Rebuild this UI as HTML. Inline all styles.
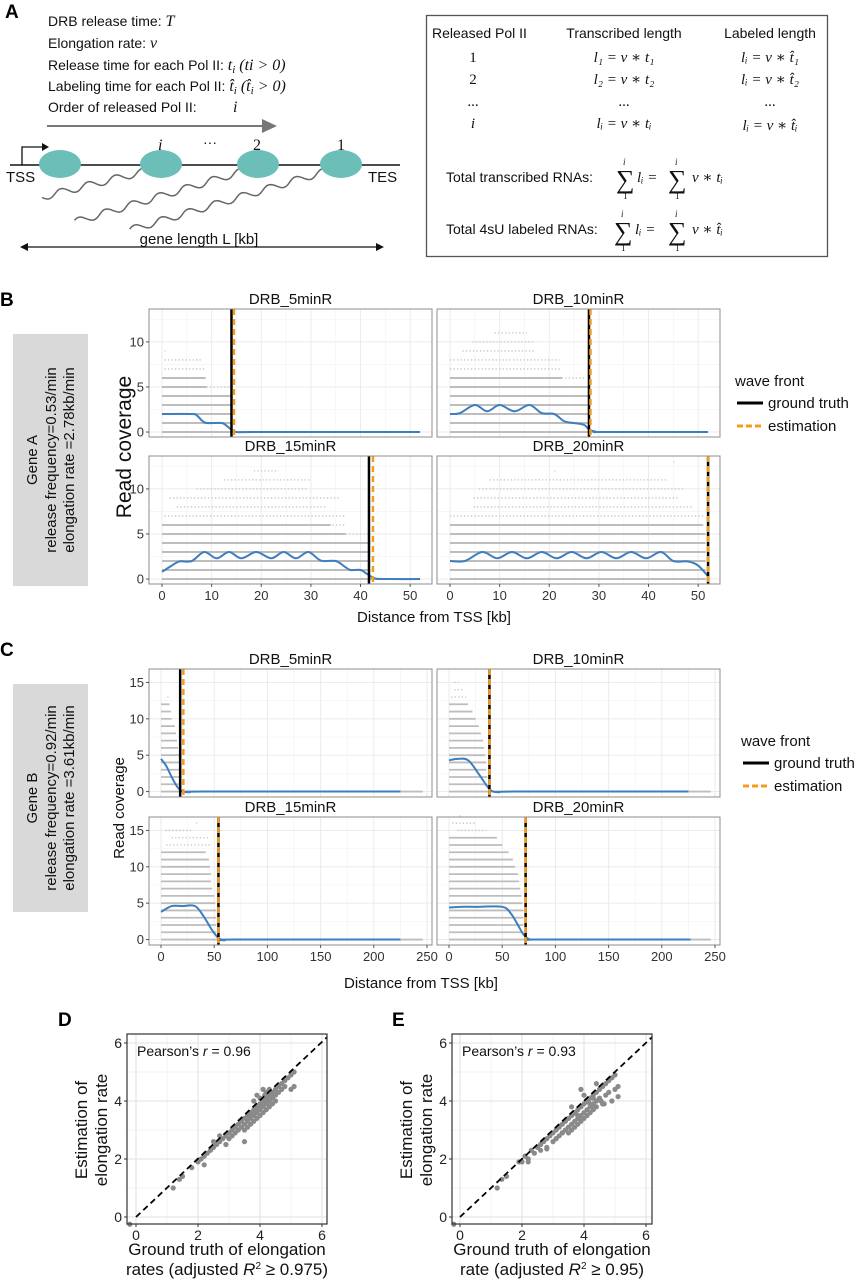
<!DOCTYPE html>
<html><head><meta charset="utf-8">
<style>
html,body{margin:0;padding:0;background:#fff;}
svg{display:block;font-family:"Liberation Sans",Arial,sans-serif;}
.m{font-family:"Liberation Serif","DejaVu Serif",serif;font-style:italic;}
</style></head>
<body>
<svg id="fig" width="860" height="1280" viewBox="0 0 860 1280" xmlns="http://www.w3.org/2000/svg">
<rect width="860" height="1280" fill="#fff"/>
<text x="5" y="18" font-size="19" font-weight="bold">A</text>
<text x="0" y="306" font-size="19" font-weight="bold">B</text>
<text x="0" y="656" font-size="19" font-weight="bold">C</text>
<text x="58" y="1026" font-size="19" font-weight="bold">D</text>
<text x="392" y="1026" font-size="19" font-weight="bold">E</text>

<g font-size="14" fill="#111">
<text x="48" y="26">DRB release time: <tspan class="m" font-size="16">T</tspan></text>
<text x="48" y="48">Elongation rate: <tspan class="m" font-size="16">v</tspan></text>
<text x="48" y="70">Release time for each Pol II: <tspan class="m" font-size="16">t<tspan font-size="11" dy="3">i</tspan><tspan dy="-3"> (ti &gt; 0)</tspan></tspan></text>
<text x="48" y="91">Labeling time for each Pol II: <tspan class="m" font-size="16">t̂<tspan font-size="11" dy="3">i</tspan><tspan dy="-3"> (t̂</tspan><tspan font-size="11" dy="3">i</tspan><tspan dy="-3"> &gt; 0)</tspan></tspan></text>
<text x="48" y="112">Order of released Pol II:<tspan class="m" x="233" font-size="16">i</tspan></text>
<line x1="47" y1="126" x2="264" y2="126" stroke="#777" stroke-width="2"/>
<polygon points="262,119 277,126 262,133" fill="#777"/>
<line x1="10" y1="165" x2="400" y2="165" stroke="#111" stroke-width="1.5"/>
<polyline points="22,165 22,147 44,147" fill="none" stroke="#111" stroke-width="1.3"/>
<polygon points="42,143 49,147 42,151" fill="#111"/>
<g id="rnas" fill="none" stroke="#666" stroke-width="1.5"></g>
<g fill="#6cbfb8">
<ellipse cx="60" cy="164" rx="21" ry="14"/><ellipse cx="161" cy="164" rx="21" ry="14"/>
<ellipse cx="258" cy="164" rx="21" ry="14"/><ellipse cx="341" cy="164" rx="21" ry="14"/>
</g>
<text x="158" y="150" class="m" font-size="16">i</text>
<text x="203" y="147" font-size="14">···</text>
<text x="253" y="150" font-family="Liberation Serif,serif" font-size="16">2</text>
<text x="337" y="150" font-family="Liberation Serif,serif" font-size="16">1</text>
<text x="6" y="182" font-size="15">TSS</text>
<text x="368" y="182" font-size="15">TES</text>
<line x1="26" y1="247" x2="378" y2="247" stroke="#111" stroke-width="1.3"/>
<polygon points="28,243 20,247 28,251" fill="#111"/>
<polygon points="376,243 384,247 376,251" fill="#111"/>
<text x="199" y="244" text-anchor="middle" font-size="15">gene length L [kb]</text>
</g>

<g font-size="14" fill="#111">
<rect x="426.5" y="15.5" width="401" height="241" fill="none" stroke="#555" stroke-width="1.3"/>
<text x="432" y="38">Released Pol II</text>
<text x="624" y="38" text-anchor="middle">Transcribed length</text>
<text x="770" y="38" text-anchor="middle">Labeled length</text>
<g font-family="Liberation Serif,serif" font-size="15">
<text x="473" y="62" text-anchor="middle">1</text><text x="473" y="84" text-anchor="middle">2</text>
<text x="473" y="106" text-anchor="middle">...</text><text x="473" y="128" text-anchor="middle" class="m">i</text>
<text x="624" y="62" text-anchor="middle" class="m">l₁ = v ∗ t₁</text>
<text x="624" y="84" text-anchor="middle" class="m">l₂ = v ∗ t₂</text>
<text x="624" y="106" text-anchor="middle">...</text>
<text x="624" y="128" text-anchor="middle" class="m">lᵢ = v ∗ tᵢ</text>
<text x="770" y="62" text-anchor="middle" class="m">lᵢ = v ∗ t̂₁</text>
<text x="770" y="84" text-anchor="middle" class="m">lᵢ = v ∗ t̂₂</text>
<text x="770" y="106" text-anchor="middle">...</text>
<text x="770" y="130" text-anchor="middle" class="m">lᵢ = v ∗ t̂ᵢ</text>
</g>
<text x="446" y="182">Total transcribed RNAs:</text>
<g font-family="Liberation Serif,serif">
<text x="616" y="188" font-size="26">∑</text><text x="623" y="165" font-size="9" class="m">i</text><text x="623" y="199" font-size="9">1</text>
<text x="637" y="182" class="m" font-size="15">lᵢ =</text>
<text x="668" y="188" font-size="26">∑</text><text x="675" y="165" font-size="9" class="m">i</text><text x="675" y="199" font-size="9">1</text>
<text x="692" y="182" class="m" font-size="15">v ∗  tᵢ</text>
</g>
<text x="446" y="234">Total 4sU labeled RNAs:</text>
<g font-family="Liberation Serif,serif">
<text x="614" y="240" font-size="26">∑</text><text x="621" y="217" font-size="9" class="m">i</text><text x="621" y="251" font-size="9">1</text>
<text x="635" y="234" class="m" font-size="15">lᵢ =</text>
<text x="668" y="240" font-size="26">∑</text><text x="675" y="217" font-size="9" class="m">i</text><text x="675" y="251" font-size="9">1</text>
<text x="692" y="234" class="m" font-size="15">v ∗  t̂ᵢ</text>
</g>
</g>

<g>
<rect x="13" y="334" width="75" height="252" fill="#d9d9d9"/>
<text transform="translate(51,460) rotate(-90)" text-anchor="middle" font-size="15" fill="#111"><tspan x="0" dy="-14">Gene A</tspan><tspan x="0" dy="19">release frequency=0.53/min</tspan><tspan x="0" dy="18">elongation rate =2.78kb/min</tspan></text>
</g>
<g>
<rect x="13" y="684" width="75" height="228" fill="#d9d9d9"/>
<text transform="translate(51,798) rotate(-90)" text-anchor="middle" font-size="15" fill="#111"><tspan x="0" dy="-14">Gene B</tspan><tspan x="0" dy="19">release frequency=0.92/min</tspan><tspan x="0" dy="18">elongation rate =3.61kb/min</tspan></text>
</g>

<text transform="translate(131,447) rotate(-90)" text-anchor="middle" font-size="21" fill="#111">Read coverage</text>
<text x="434" y="622" text-anchor="middle" font-size="15" fill="#111">Distance from TSS [kb]</text>
<text transform="translate(124,808) rotate(-90)" text-anchor="middle" font-size="15" fill="#111">Read coverage</text>
<text x="421" y="988" text-anchor="middle" font-size="15" fill="#111">Distance from TSS [kb]</text>

<g font-size="15" fill="#111">
<text x="735" y="386">wave front</text>
<line x1="737" y1="403" x2="763" y2="403" stroke="#000" stroke-width="3"/>
<text x="768" y="408">ground truth</text>
<line x1="737" y1="426" x2="763" y2="426" stroke="#f39c1f" stroke-width="3" stroke-dasharray="6 3"/>
<text x="768" y="431">estimation</text>
</g>
<g font-size="15" fill="#111">
<text x="741" y="746">wave front</text>
<line x1="743" y1="763" x2="769" y2="763" stroke="#000" stroke-width="3"/>
<text x="774" y="768">ground truth</text>
<line x1="743" y1="786" x2="769" y2="786" stroke="#f39c1f" stroke-width="3" stroke-dasharray="6 3"/>
<text x="774" y="791">estimation</text>
</g>

<g id="charts"></g>
</svg>
<script>
const bTitles = ["DRB_5minR","DRB_10minR","DRB_15minR","DRB_20minR"];
const bXTicks = [0,10,20,30,40,50];
const bYTicks = [0,5,10];
const bTruth = [14, 28, 41.7, 52];
const bEstimate = [14.5, 28.3, 42.5, 52];
const bSolidEnds5 = [52,14,14,14,14,9,8.8];
const bSolidEnds10 = [52,28,28,28,28,28,22.5];
const bSolidEnds15 = [52,42,42,42,42,37,34];
const bSolidEnds20 = [51.5,51.5,51.5,51.5,51.5,51.5,51];
const bDotted5 = [[5,9,13.5],[7,0.5,8.5],[8,0.5,8],[9,0.5,0.7]];
const bDotted10 = [[6,22.5,27],[7,0,22.5],[8,0,22],[9,2.5,17],[10,4.5,17],[11,9,15.5]];
const bDotted15 = [[5,37,42],[6,0.5,37],[7,0.5,37],[8,3,33],[9,1.5,36],[10,7,29.5],[11,12.5,30],[12,18.5,23.5]];
const bDotted20 = [[7,0,51],[8,4.7,49],[9,4.7,46],[10,5.8,47],[11,8,44],[12,21,21.2],[13,45,45.2]];
const bCurveX5 = [0,6,7,8,9,12,13,14,15,20,52];
const bCurveY5 = [2,2,1.85,1.3,1,1,0.7,0.25,0,0,0];
const bCurveX10 = [0,2,5,7.5,10,13,16,18.5,21,23,25,27,28,29.5,31,52];
const bCurveY10 = [2,2.1,3,2.3,3,2.3,3,2.1,2,1.2,1,0.8,0.3,0.02,0,0];
const bCurveX15 = [0,2,3.5,6,8.5,11,13.5,16,19,22,24.5,27,29.5,32,35,37,38,40,41.5,43,46,52];
const bCurveY15 = [0.8,1.5,1.95,2,3,2.3,3,2.3,3,2.3,3,2.3,3,2.05,2,1.3,1,1,0.5,0.05,0,0];
const bCurveX20 = [0,3,6.5,9.5,12.5,15.5,18.5,21.5,24.5,27.5,30.5,33.5,36.5,39.5,42.5,45,48,50,52];
const bCurveY20 = [2,2,3,2.3,3,2.3,3,2.3,3,2.3,3,2.3,3,2.3,3,2,1.95,1.5,0.3];

const cTitles = ["DRB_5minR","DRB_10minR","DRB_15minR","DRB_20minR"];
const cXTicks = [0,50,100,150,200,250];
const cYTicks = [0,5,10,15];
const cTruth = [18, 38, 54, 72];
const cEstimate = [21, 38, 54, 72];
const cSolidEnds5 = [246,17,17,17,17,17,16,15,14,13,10,9,8];
const cSolidEnds10 = [246,36,36,35,35,34,33,32,30,28,25,22,18];
const cSolidEnds15 = [246,52,52,52,52,51,50,48,47,47,46,45,42];
const cSolidEnds20 = [246,70,70,70,70,69,68,67,66,65,62,60,56,50,45];
const cDotted5 = [[11,5,10],[13,6,7]];
const cDotted10 = [[13,2,16],[14,5,15],[15,5,9]];
const cDotted15 = [[13,5,48],[14,10,45],[15,4,30],[16,33,34]];
const cDotted20 = [[15,8,35],[16,3,25],[17,10,11]];
const cCurveX5 = [0,5,10,15,20,27,40,225];
const cCurveY5 = [4.5,3.5,2,0.7,0.02,-0.1,0,0];
const cCurveX10 = [0,8,18,28,35,40,47,60,225];
const cCurveY10 = [4.3,4.5,4.3,2.4,0.9,0.1,-0.1,0,0];
const cCurveX15 = [0,10,20,32,40,48,54,60,70,225];
const cCurveY15 = [3.8,4.6,4.6,4.6,3.2,1.3,0.2,-0.1,0,0];
const cCurveX20 = [0,10,25,50,58,64,70,76,85,227];
const cCurveY20 = [4.4,4.5,4.5,4.5,3.6,2.2,0.7,0.02,0,0];

const dTicks = [0,2,4,6];
const dGroundTruth = [-0.2,1.2,1.4,1.5,1.8,2.0,2.1,2.2,2.3,2.4,2.5,2.5,2.6,2.7,2.7,2.8,2.9,3.0,3.0,3.1,3.1,3.2,3.2,3.3,3.3,3.4,3.4,3.5,3.5,3.5,3.6,3.6,3.6,3.7,3.7,3.7,3.8,3.8,3.8,3.9,3.9,3.9,4.0,4.0,4.0,4.0,4.1,4.1,4.1,4.2,4.2,4.2,4.2,4.3,4.3,4.3,4.3,4.4,4.4,4.4,4.5,4.5,4.5,4.6,4.6,4.7,4.7,4.8,4.8,4.9,5.0,5.0,5.1,5.1,3.8,3.9,4.1,2.9,3.5,2.2,4.25,4.35,4.05,3.95,3.85,4.15,4.45,3.75,3.65];
const dEstimate = [-0.25,1.0,1.3,1.4,1.7,1.9,2.0,2.1,2.2,2.3,2.4,2.6,2.5,2.6,2.8,2.7,2.8,2.9,2.7,3.0,2.8,3.1,2.9,3.2,3.0,3.3,3.1,3.4,3.2,3.0,3.5,3.3,3.1,3.6,3.4,3.2,3.7,3.5,3.3,3.8,3.6,3.4,3.9,3.7,3.5,4.1,4.0,3.8,3.6,4.1,3.9,3.7,4.3,4.2,4.0,3.8,4.4,4.3,4.1,3.9,4.4,4.2,4.0,4.5,4.3,4.6,4.4,4.7,4.5,4.8,4.9,4.4,5.0,4.5,4.0,4.2,4.4,2.5,2.6,1.8,3.95,4.15,3.85,3.75,3.65,4.2,4.25,3.55,3.45];
const eGroundTruth = [-0.2,1.2,1.35,1.5,1.9,2.0,2.1,2.2,2.3,2.4,2.5,2.6,2.6,2.7,2.8,2.8,2.9,3.0,3.0,3.1,3.1,3.2,3.2,3.3,3.3,3.4,3.4,3.5,3.5,3.5,3.6,3.6,3.6,3.7,3.7,3.7,3.8,3.8,3.8,3.9,3.9,3.9,4.0,4.0,4.0,4.1,4.1,4.1,4.2,4.2,4.2,4.3,4.3,4.3,4.4,4.4,4.4,4.5,4.5,4.6,4.6,4.7,4.7,4.8,4.8,4.9,4.9,5.0,5.0,5.1,5.1,3.3,3.9,4.4,3.6,4.0,4.3,2.2,2.8,3.1,4.15,4.25,3.75,3.85,4.55,4.65];
const eEstimate = [-0.25,1.0,1.3,1.4,1.9,1.9,2.1,2.0,2.3,2.2,2.4,2.5,2.3,2.6,2.7,2.4,2.8,2.9,2.6,3.0,2.7,3.1,2.8,3.2,2.9,3.3,3.0,3.4,3.1,2.9,3.5,3.2,3.0,3.6,3.3,3.1,3.7,3.4,3.2,3.8,3.5,3.3,3.9,3.6,3.4,4.0,3.7,3.5,4.1,3.8,3.6,4.2,3.9,3.7,4.3,4.0,3.8,4.4,4.1,4.5,3.9,4.6,4.2,4.7,4.3,4.8,4.0,4.9,4.4,4.5,4.15,2.9,4.4,4.6,3.8,4.2,4.1,1.9,2.35,2.7,3.95,3.85,3.55,3.45,4.0,3.9];

const NS = "http://www.w3.org/2000/svg";
const root = document.getElementById('charts');
function mk(tag, attrs, parent){
  const e = document.createElementNS(NS, tag);
  for (const k in attrs) e.setAttribute(k, attrs[k]);
  (parent||root).appendChild(e);
  return e;
}
function linScale(d0,d1,r0,r1){ return v => r0 + (v-d0)*(r1-r0)/(d1-d0); }
function smoothPath(pts){
  let d = "M"+pts[0][0].toFixed(2)+","+pts[0][1].toFixed(2);
  for (let i=0;i<pts.length-1;i++){
    const p0=pts[Math.max(0,i-1)], p1=pts[i], p2=pts[i+1], p3=pts[Math.min(pts.length-1,i+2)];
    const c1=[p1[0]+(p2[0]-p0[0])/6, p1[1]+(p2[1]-p0[1])/6];
    const c2=[p2[0]-(p3[0]-p1[0])/6, p2[1]-(p3[1]-p1[1])/6];
    d += " C"+c1[0].toFixed(2)+","+c1[1].toFixed(2)+" "+c2[0].toFixed(2)+","+c2[1].toFixed(2)+" "+p2[0].toFixed(2)+","+p2[1].toFixed(2);
  }
  return d;
}

(function(){
  const g = document.getElementById('rnas');
  const rnaSegs = [[150,170,42,197],[247,170,75,222],[330,170,130,230]];
  rnaSegs.forEach(s=>{
    const [x1,y1,x2,y2]=s, n=80, L=Math.hypot(x2-x1,y2-y1);
    const ux=(x2-x1)/L, uy=(y2-y1)/L;
    let d="";
    for(let i=0;i<=n;i++){const t=i/n, a=Math.sin(t*L/28*2*Math.PI)*3.5;
      const x=x1+(x2-x1)*t - uy*a, y=y1+(y2-y1)*t + ux*a; d+=(i?"L":"M")+x.toFixed(1)+","+y.toFixed(1);}
    const p=document.createElementNS(NS,'path'); p.setAttribute('d',d);
    
    
    g.appendChild(p);
  });
})();

function facet(o){
  const g = mk('g',{});
  
  
  const sx = linScale(o.xd[0],o.xd[1],o.x,o.x+o.w);
  const sy = linScale(o.yd[0],o.yd[1],o.y+o.h,o.y);
  mk('rect',{x:o.x,y:o.y,width:o.w,height:o.h,fill:'#fff'},g);
  const minorX=[], minorY=[];
  for(let i=0;i<o.xt.length-1;i++) minorX.push((o.xt[i]+o.xt[i+1])/2);
  for(let i=0;i<o.yt.length-1;i++) minorY.push((o.yt[i]+o.yt[i+1])/2);
  minorY.push(o.yt[o.yt.length-1]+(o.yt[1]-o.yt[0])/2);
  minorX.forEach(v=>{const X=sx(v); if(X>o.x&&X<o.x+o.w) mk('line',{x1:X,x2:X,y1:o.y,y2:o.y+o.h,stroke:'#f2f2f2','stroke-width':0.6},g);});
  minorY.forEach(v=>{const Y=sy(v); if(Y>o.y&&Y<o.y+o.h) mk('line',{x1:o.x,x2:o.x+o.w,y1:Y,y2:Y,stroke:'#f2f2f2','stroke-width':0.6},g);});
  o.xt.forEach(v=>{const X=sx(v); if(X>o.x&&X<o.x+o.w) mk('line',{x1:X,x2:X,y1:o.y,y2:o.y+o.h,stroke:'#ebebeb','stroke-width':1},g);});
  o.yt.forEach(v=>{const Y=sy(v); mk('line',{x1:o.x,x2:o.x+o.w,y1:Y,y2:Y,stroke:'#ebebeb','stroke-width':1},g);});
  o.solid.forEach((end,lvl)=>{
    const l = mk('line',{x1:sx(0),x2:sx(end),y1:sy(lvl),y2:sy(lvl),stroke:'#bdbdbd','stroke-width':o.lw},g);
    
    
  });
  o.dotted.forEach(r=>{
    const l = mk('line',{x1:sx(r[1]),x2:sx(r[2]),y1:sy(r[0]),y2:sy(r[0]),stroke:'#c4c4c4','stroke-width':1.3,'stroke-dasharray':'1.3 2.2'},g);
    
    
  });
  const pts = o.cx.map((v,i)=>[sx(v),sy(o.cy[i])]);
  const cp = mk('path',{d:smoothPath(pts),fill:'none',stroke:'#3d7ebf','stroke-width':2},g);
  
  
  const tl = mk('line',{x1:sx(o.truth),x2:sx(o.truth),y1:o.y,y2:o.y+o.h,stroke:'#000','stroke-width':2.5},g);
  
  
  const el = mk('line',{x1:sx(o.est),x2:sx(o.est),y1:o.y,y2:o.y+o.h,stroke:'#f39c1f','stroke-width':2.5,'stroke-dasharray':'6 4'},g);
  
  
  mk('rect',{x:o.x,y:o.y,width:o.w,height:o.h,fill:'none',stroke:'#8c8c8c','stroke-width':1},g);
  const t = mk('text',{x:o.x+o.w/2,y:o.y-5,'text-anchor':'middle','font-size':15,fill:'#111'},g);
  t.textContent = o.title;
  
  
  if(o.showY){
    o.yt.forEach(v=>{const Y=sy(v);
      mk('line',{x1:o.x-3,x2:o.x,y1:Y,y2:Y,stroke:'#555'},g);
      const tt=mk('text',{x:o.x-5,y:Y+4.5,'text-anchor':'end','font-size':13,fill:'#333'},g); tt.textContent=v;
      
      
    });
  }
  if(o.showX){
    o.xt.forEach(v=>{const X=sx(v);
      mk('line',{x1:X,x2:X,y1:o.y+o.h,y2:o.y+o.h+3,stroke:'#555'},g);
      const tt=mk('text',{x:X,y:o.y+o.h+16,'text-anchor':'middle','font-size':13,fill:'#333'},g); tt.textContent=v;
      
      
    });
  }
}

const bSolid=[bSolidEnds5,bSolidEnds10,bSolidEnds15,bSolidEnds20];
const bDot=[bDotted5,bDotted10,bDotted15,bDotted20];
const bCX=[bCurveX5,bCurveX10,bCurveX15,bCurveX20], bCY=[bCurveY5,bCurveY10,bCurveY15,bCurveY20];
const cSolid=[cSolidEnds5,cSolidEnds10,cSolidEnds15,cSolidEnds20];
const cDot=[cDotted5,cDotted10,cDotted15,cDotted20];
const cCX=[cCurveX5,cCurveX10,cCurveX15,cCurveX20], cCY=[cCurveY5,cCurveY10,cCurveY15,cCurveY20];
const bPos=[[149,309],[437,309],[149,456],[437,456]];
const cPos=[[149,669],[437,669],[149,817],[437,817]];
for(let i=0;i<4;i++){
  facet({name:'gene-a-facet-'+(i+1),x:bPos[i][0],y:bPos[i][1],w:283,h:128,xd:[-2.62,54.4],yd:[-0.55,13.65],
    xt:bXTicks,yt:bYTicks,solid:bSolid[i],dotted:bDot[i],cx:bCX[i],cy:bCY[i],truth:bTruth[i],est:bEstimate[i],
    title:bTitles[i],showY:i%2==0,showX:i>=2,lw:2});
  facet({name:'gene-b-facet-'+(i+1),x:cPos[i][0],y:cPos[i][1],w:283,h:128,xd:[-11.3,254.7],yd:[-0.75,16.85],
    xt:cXTicks,yt:cYTicks,solid:cSolid[i],dotted:cDot[i],cx:cCX[i],cy:cCY[i],truth:cTruth[i],est:cEstimate[i],
    title:cTitles[i],showY:i%2==0,showX:i>=2,lw:1.8});
}

function scatter(o){
  const g = mk('g',{});
  
  
  const sx = linScale(0,6,o.x0,o.x6), sy = linScale(0,6,1217,1043);
  const L=o.fx, T=1034, W=200, H=190;
  mk('rect',{x:L,y:T,width:W,height:H,fill:'#fff'},g);
  [1,3,5].forEach(v=>{mk('line',{x1:sx(v),x2:sx(v),y1:T,y2:T+H,stroke:'#f3f3f3'},g);mk('line',{x1:L,x2:L+W,y1:sy(v),y2:sy(v),stroke:'#f3f3f3'},g);});
  dTicks.forEach(v=>{mk('line',{x1:sx(v),x2:sx(v),y1:T,y2:T+H,stroke:'#e6e6e6','stroke-width':1.3},g);mk('line',{x1:L,x2:L+W,y1:sy(v),y2:sy(v),stroke:'#e6e6e6','stroke-width':1.3},g);});
  o.gx.forEach((v,i)=>{
    const c = mk('circle',{cx:sx(v),cy:sy(o.ey[i]),r:2.6,fill:'#8a8a8a'},g);
    
    
  });
  const dl = mk('line',{x1:sx(0),y1:sy(0),x2:L+W,y2:sy(6.2),stroke:'#000','stroke-width':1.8,'stroke-dasharray':'6 4'},g);
  
  
  mk('rect',{x:L,y:T,width:W,height:H,fill:'none',stroke:'#333','stroke-width':1.2},g);
  dTicks.forEach(v=>{
    mk('line',{x1:sx(v),x2:sx(v),y1:T+H,y2:T+H+3,stroke:'#333'},g);
    const a=mk('text',{x:sx(v),y:T+H+16,'text-anchor':'middle','font-size':14,fill:'#222'},g); a.textContent=v;
    
    
    mk('line',{x1:L-3,x2:L,y1:sy(v),y2:sy(v),stroke:'#333'},g);
    const b=mk('text',{x:L-5,y:sy(v)+5,'text-anchor':'end','font-size':14,fill:'#222'},g); b.textContent=v;
    
    
  });
  const p = mk('text',{x:L+10,y:T+22,'font-size':14,fill:'#111'},g);
  p.innerHTML = 'Pearson\u2019s <tspan font-style="italic">r</tspan> = '+o.r;
  
  
  const yt = mk('text',{transform:'translate('+(L-30)+',1130) rotate(-90)','text-anchor':'middle','font-size':17,fill:'#111'},g);
  yt.innerHTML = '<tspan x="0" dy="-10">Estimation of</tspan><tspan x="0" dy="20">elongation rate</tspan>';
  
  
  const xt = mk('text',{x:L+W/2,y:1255,'text-anchor':'middle','font-size':17,fill:'#111'},g);
  xt.innerHTML = '<tspan x="'+(L+W/2)+'">Ground truth of elongation</tspan><tspan x="'+(L+W/2)+'" dy="20">'+o.line2+' (adjusted <tspan font-style="italic">R</tspan><tspan font-size="10" dy="-6">2</tspan><tspan dy="6"> ≥ '+o.thr+')</tspan></tspan>';
  
  
}
scatter({name:'scatter-d',fx:127,x0:136,x6:322,gx:dGroundTruth,ey:dEstimate,r:'0.96',line2:'rates',thr:'0.975'});
scatter({name:'scatter-e',fx:452,x0:460,x6:646,gx:eGroundTruth,ey:eEstimate,r:'0.93',line2:'rate',thr:'0.95'});
</script>
</body></html>
